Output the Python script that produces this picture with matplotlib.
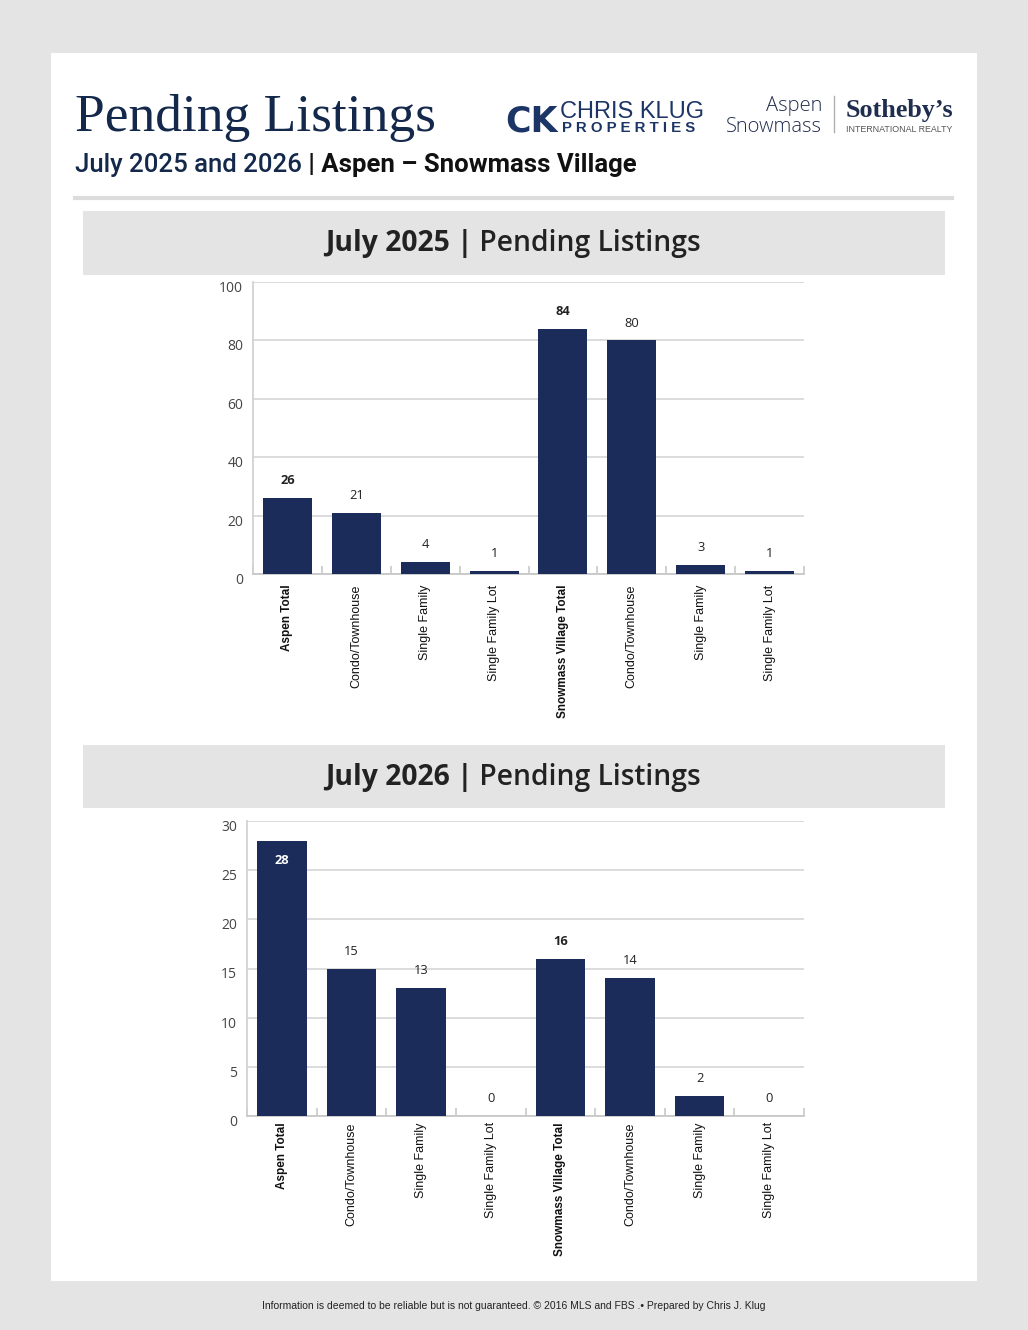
import matplotlib
matplotlib.use("Agg")
import matplotlib.pyplot as plt
from matplotlib.patches import Rectangle
from matplotlib.lines import Line2D
from matplotlib.transforms import ScaledTranslation

# ---------------- data ----------------
categories = ["Aspen Total", "Condo/Townhouse", "Single Family", "Single Family Lot",
              "Snowmass Village Total", "Condo/Townhouse", "Single Family", "Single Family Lot"]
is_total = [True, False, False, False, True, False, False, False]
values_2025 = [26, 21, 4, 1, 84, 80, 3, 1]
values_2026 = [28, 15, 13, 0, 16, 14, 2, 0]
yticks_2025 = [0, 20, 40, 60, 80, 100]
yticks_2026 = [0, 5, 10, 15, 20, 25, 30]

title = "Pending Listings"
subtitle_a = "July 2025 and 2026"
subtitle_b = " | Aspen \u2013 Snowmass Village"
header_2025 = ("July 2025 |", " Pending Listings")
header_2026 = ("July 2026 |", " Pending Listings")
footer = ("Information is deemed to be reliable but is not guaranteed. \u00a9 2016 MLS and FBS .\u2022 "
          "Prepared by Chris J. Klug")

# ---------------- setup ----------------
W, H = 1028, 1330
NAVY = "#1b2c5a"
DARKNAVY = "#13284a"
SANS = "Liberation Sans"

fig = plt.figure(figsize=(W / 100, H / 100), dpi=100, facecolor="#e4e4e4")
renderer = fig.canvas.get_renderer()


def fx(x):
    return x / W


def fy(y):
    return 1 - y / H


def rect_px(x0, y0, x1, y1, z, **kw):
    fig.patches.append(Rectangle((fx(x0), fy(y1)), (x1 - x0) / W, (y1 - y0) / H,
                                 transform=fig.transFigure, zorder=z, **kw))


def multi_text(parts, x, y, ha="left", va="baseline"):
    texts = []
    for s, kw in parts:
        t = fig.text(0, fy(y), s, va=va, ha="left", **kw)
        texts.append(t)
    widths = [t.get_window_extent(renderer).width for t in texts]
    total = sum(widths)
    start = x - total / 2 if ha == "center" else (x - total if ha == "right" else x)
    cur = start
    for t, w in zip(texts, widths):
        t.set_x(fx(cur))
        cur += w
    return texts


# white panel
rect_px(51, 53, 977, 1281, -10, facecolor="white", edgecolor="none")

# ---------------- header ----------------
fig.text(fx(75), fy(131), title, fontsize=38.5, family="Liberation Serif", color=DARKNAVY,
         va="baseline", ha="left")

multi_text([(subtitle_a, dict(fontsize=18.5, family="Roboto", weight="medium", color=DARKNAVY)),
            (subtitle_b, dict(fontsize=18.5, family="Roboto", weight="bold", color="#111111"))],
           75, 172)

fig.lines.append(Line2D([fx(75), fx(952)], [fy(198), fy(198)], transform=fig.transFigure,
                        color="#dcdcdc", lw=3))

# logos (as text)
LOGO = "#1c3566"
fig.text(fx(505), fy(132), "CK", fontsize=25, family="DejaVu Sans", weight="bold", color=LOGO,
         va="baseline", ha="left")
fig.text(fx(560), fy(118), "CHRIS KLUG", fontsize=17, family=SANS, color=LOGO,
         va="baseline", ha="left")
fig.text(fx(562), fy(132), "P R O P E R T I E S", fontsize=10.8, family=SANS, weight="bold",
         color=LOGO, va="baseline", ha="left")
fig.text(fx(822), fy(111), "Aspen", fontsize=14.5, family="Open Sans", weight="light",
         color="#1f2d4e", va="baseline", ha="right")
fig.text(fx(822), fy(132), "Snowmass", fontsize=14.5, family="Open Sans", weight="light",
         color="#1f2d4e", va="baseline", ha="right")
fig.lines.append(Line2D([fx(834), fx(834)], [fy(96), fy(132)], transform=fig.transFigure,
                        color="#b0b0b0", lw=1))
fig.text(fx(846), fy(117), "Sotheby\u2019s", fontsize=18.8, family="Liberation Serif", weight="bold",
         color="#1f2d4e", va="baseline", ha="left")
fig.text(fx(846), fy(132), "INTERNATIONAL REALTY", fontsize=6.4, family=SANS,
         color="#555555", va="baseline", ha="left")

# section headers
for (y0, y1), parts in [((211, 275), header_2025), ((745, 808), header_2026)]:
    rect_px(83, y0, 945, y1, -5, facecolor="#e4e4e4", edgecolor="none")
    multi_text([(parts[0], dict(fontsize=20.3, family="Open Sans", weight="bold", color="#222222")),
                (parts[1], dict(fontsize=20.3, family="Open Sans", weight="semibold", color="#222222"))],
               513, (y0 + y1) / 2 + 8, ha="center")


# ---------------- charts ----------------
def draw_chart(box, values, yticks, xlab_pad):
    x0, y0, x1, y1 = box
    ax = fig.add_axes([fx(x0), fy(y1), (x1 - x0) / W, (y1 - y0) / H])
    ax.patch.set_alpha(0)
    ymax = yticks[-1]
    xs = list(range(len(categories)))
    ax.bar(xs, values, width=0.71, color=NAVY, zorder=3)
    ax.set_xlim(-0.5, len(categories) - 0.5)
    ax.set_ylim(0, ymax)
    ax.set_yticks(yticks)
    ax.set_yticklabels([str(t) for t in yticks])
    ax.yaxis.grid(True, color="#d9d9d9", lw=1.3)
    ax.set_axisbelow(True)
    for s in ("top", "right"):
        ax.spines[s].set_visible(False)
    ax.spines["left"].set_color("#d2d2d2")
    ax.spines["left"].set_linewidth(1.3)
    ax.spines["bottom"].set_color("#c8c8c8")
    ax.spines["bottom"].set_linewidth(1.3)
    ax.tick_params(axis="y", length=0, pad=7, labelsize=10, labelcolor="#444444")
    shift = ScaledTranslation(0, -3.2 / 72, fig.dpi_scale_trans)
    for lab in ax.get_yticklabels():
        lab.set_family("Open Sans")
        lab.set_transform(lab.get_transform() + shift)
    ax.set_xticks(xs)
    ax.set_xticklabels(categories, rotation=90, va="top", ha="center")
    ax.set_xticks([i - 0.5 for i in range(len(categories) + 1)], minor=True)
    ax.tick_params(axis="x", which="major", length=0, pad=xlab_pad)
    ax.tick_params(axis="x", which="minor", length=6, direction="in", color="#c8c8c8", width=1.2)
    for lab, tot in zip(ax.get_xticklabels(), is_total):
        lab.set_family(SANS)
        lab.set_color("#111111")
        if tot:
            lab.set_weight("bold")
            lab.set_fontsize(8.5)
        else:
            lab.set_fontsize(9)
    for i, (v, tot) in enumerate(zip(values, is_total)):
        inside = v / ymax > 0.9
        ax.annotate(str(v), (i, v), xytext=(0, -14 if inside else 12.5), textcoords="offset points",
                    ha="center", va="center", fontsize=9.3, family="Open Sans",
                    weight="bold" if tot else "normal",
                    color="white" if inside else "#222222", zorder=4, annotation_clip=False)
    return ax


draw_chart((253, 282, 804, 574), values_2025, yticks_2025, 7.5)
draw_chart((247, 821, 804, 1116), values_2026, yticks_2026, 4.5)

# footer
fig.text(fx(514), fy(1306), footer, fontsize=7.5, family=SANS, color="#222222",
         ha="center", va="center")

fig.savefig("out.png", dpi=100, facecolor=fig.get_facecolor())
